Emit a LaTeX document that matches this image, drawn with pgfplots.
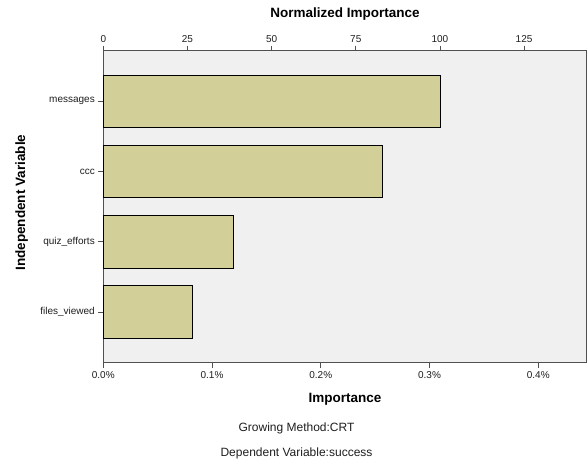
\documentclass[border=0pt]{standalone}
\usepackage{pgfplots}
\pgfplotsset{compat=1.18}
\usepackage{fontspec}
\setmainfont{Liberation Sans}
\definecolor{barfill}{RGB}{211,207,152}
\definecolor{plotbg}{RGB}{240,240,240}
\definecolor{frame}{RGB}{80,80,80}
\definecolor{txt}{RGB}{30,30,30}
\begin{document}
\begin{tikzpicture}
\path[use as bounding box] (-103.3pt,-99.3pt) rectangle (483.7pt,362.7pt);
\begin{axis}[
    name=main,
    scale only axis,
    width=483.4pt, height=312pt,
    xbar, bar shift=0pt, bar width=52.5pt,
    xmin=0, xmax=0.4445,
    ymin=-0.72, ymax=3.72,
    y dir=reverse,
    ytick={0,1,2,3},
    yticklabels={messages,ccc,quiz\_efforts,files\_viewed},
    xtick={0,0.1,0.2,0.3,0.4},
    xticklabel={\pgfmathprintnumber[fixed,precision=1,fixed zerofill]{\tick}\%},
    /pgf/number format/assume math mode=true,
    xtick pos=bottom, ytick pos=left,
    tick align=outside,
    major tick length=5pt,
    every tick/.style={frame, line width=0.8pt},
    axis line style={frame, line width=0.8pt},
    axis background/.style={fill=plotbg},
    ticklabel style={font=\fontsize{10}{12}\selectfont, text=txt},
    xlabel={Importance},
    xlabel style={at={(axis description cs:0.5,0)}, anchor=center, yshift=-36.3pt,
        font=\fontsize{13.5}{16}\selectfont\bfseries},
    ylabel={Independent Variable},
    ylabel style={at={(axis description cs:-0.1688,0.513)}, anchor=center,
        font=\fontsize{13.5}{16}\selectfont\bfseries},
    clip=false,
]
\addplot[draw=black, fill=barfill, line width=0.8pt] coordinates {
    (0.3096,0) (0.2566,1) (0.1199,2) (0.0822,3)
};
\node[font=\fontsize{12}{14}\selectfont, text=txt] at (axis description cs:0.3997,0) [yshift=-65.3pt] {Growing Method:CRT};
\node[font=\fontsize{12}{14}\selectfont, text=txt] at (axis description cs:0.3997,0) [yshift=-90.3pt] {Dependent Variable:success};
\end{axis}
\begin{axis}[
    scale only axis,
    width=483.4pt, height=312pt,
    xmin=0, xmax=143.6,
    ymin=0, ymax=1,
    axis x line*=top,
    hide y axis,
    xtick={0,25,50,75,100,125},
    tick align=outside,
    major tick length=5pt,
    every tick/.style={frame, line width=0.8pt},
    axis line style={frame, line width=0.8pt},
    /pgf/number format/assume math mode=true,
    ticklabel style={font=\fontsize{10}{12}\selectfont, text=txt},
    xlabel={Normalized Importance},
    xlabel style={at={(axis description cs:0.5,1)}, anchor=center, yshift=36.7pt,
        font=\fontsize{13.5}{16}\selectfont\bfseries},
]
\end{axis}
\end{tikzpicture}
\end{document}
